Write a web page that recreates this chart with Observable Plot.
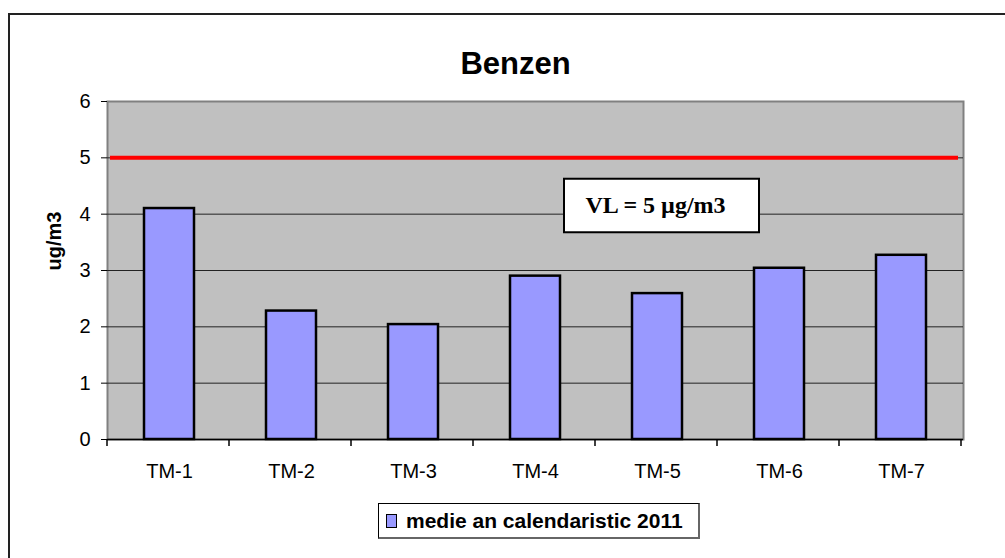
<!DOCTYPE html>
<html><head><meta charset="utf-8">
<script src="https://cdn.jsdelivr.net/npm/d3@7"></script>
<script src="https://cdn.jsdelivr.net/npm/@observablehq/plot@0.6"></script>
<style>
html,body{margin:0;padding:0;background:#fff;overflow:hidden;width:1005px;height:558px;}
#wrap{position:relative;width:1005px;height:558px;overflow:hidden;}
#border{position:absolute;left:8px;top:13px;width:1100px;height:1000px;border:2px solid #222;box-sizing:border-box;}
#chart{position:absolute;left:0;top:0;}
#legend{position:absolute;left:378px;top:503px;width:322px;height:36px;border:1px solid #000;border-right:2px solid #666;border-bottom:2px solid #666;box-sizing:border-box;display:flex;align-items:center;font:bold 21px "Liberation Sans",Arial,sans-serif;color:#000;background:#fff;}
#legend .sw{width:9px;height:12px;border:1.5px solid #000;margin-left:7px;margin-right:9px;flex:none;}
</style></head>
<body><div id="wrap"><div id="border"></div><div id="chart"></div><div id="legend"></div></div>
<script>
const titleText = "Benzen";
const yLabel = "ug/m3";
const stations = ["TM-1", "TM-2", "TM-3", "TM-4", "TM-5", "TM-6", "TM-7"];
const values = [4.10, 2.28, 2.04, 2.90, 2.59, 3.04, 3.27];
const yTicks = [0, 1, 2, 3, 4, 5, 6];
const limitValue = 5;
const limitLabel = "VL = 5 µg/m3";
const limitLabelStation = "TM-5";
const seriesName = "medie an calendaristic 2011";
const barColor = "#9999FF";

const data = stations.map((s, i) => ({station: s, value: values[i]}));

function boundaryTicks(index, scales, vals, dims) {
  const x = scales.x, y = scales.y;
  const step = x(stations[1]) - x(stations[0]);
  const g = d3.create("svg:g");
  const y0 = y(0);
  for (let i = 0; i <= stations.length; i++) {
    const px = dims.marginLeft + i * step;
    g.append("line").attr("x1", px).attr("x2", px).attr("y1", y0).attr("y2", y0 + 7)
      .attr("stroke", "#000").attr("stroke-width", 1.5);
  }
  return g.node();
}

const chart = Plot.plot({
  width: 1005,
  height: 558,
  marginLeft: 107,
  marginRight: 42,
  marginTop: 101,
  marginBottom: 119,
  style: {fontFamily: "'Liberation Sans', Arial, sans-serif", fontSize: "20px", background: "transparent", color: "#000", overflow: "visible"},
  x: {domain: stations, paddingInner: 0.59, paddingOuter: 0.295, label: null},
  y: {domain: [0, 6], label: null},
  marks: [
    Plot.frame({fill: "#C0C0C0", stroke: "#808080", strokeWidth: 2}),
    Plot.ruleY(yTicks.filter(d => d > 0 && d < 6), {stroke: "#222", strokeWidth: 1}),
    Plot.ruleY([limitValue], {stroke: "#FF0000", strokeWidth: 4, insetLeft: 3, insetRight: 5}),
    Plot.barY(data, {x: "station", y: "value", fill: barColor, stroke: "#000", strokeWidth: 2.5}),
    Plot.barY([limitLabel], {x: () => limitLabelStation, y1: 3.67, y2: 4.62, insetLeft: -68, insetRight: -77, fill: "#fff", stroke: "#000", strokeWidth: 2}),
    Plot.text([limitLabel], {x: () => limitLabelStation, y: 4.15, text: d => d, dx: -2, fontFamily: "'Liberation Serif', 'Times New Roman', serif", fontWeight: "bold", fontSize: 24, fill: "#000"}),
    Plot.ruleY([0], {stroke: "#000", strokeWidth: 1.5}),
    boundaryTicks,
    Plot.axisY({ticks: yTicks, tickSize: 6, tickPadding: 11, fontSize: 20, label: null, tickFormat: d => String(d), stroke: "#000"}),
    Plot.axisX({tickSize: 0, tickPadding: 24, fontSize: 20, label: null}),
    Plot.text([titleText], {frameAnchor: "top", dy: -50, dx: -20, text: d => d, fontSize: 31, fontWeight: "bold", fill: "#000"}),
    Plot.text([yLabel], {frameAnchor: "left", dx: -53, rotate: -90, text: d => d, fontSize: 20, fontWeight: "bold", fill: "#000"})
  ]
});
document.getElementById("chart").appendChild(chart);

const legend = document.getElementById("legend");
const sw = document.createElement("span");
sw.className = "sw";
sw.style.background = barColor;
legend.appendChild(sw);
const lt = document.createElement("span");
lt.textContent = seriesName;
legend.appendChild(lt);
</script>
</body></html>
